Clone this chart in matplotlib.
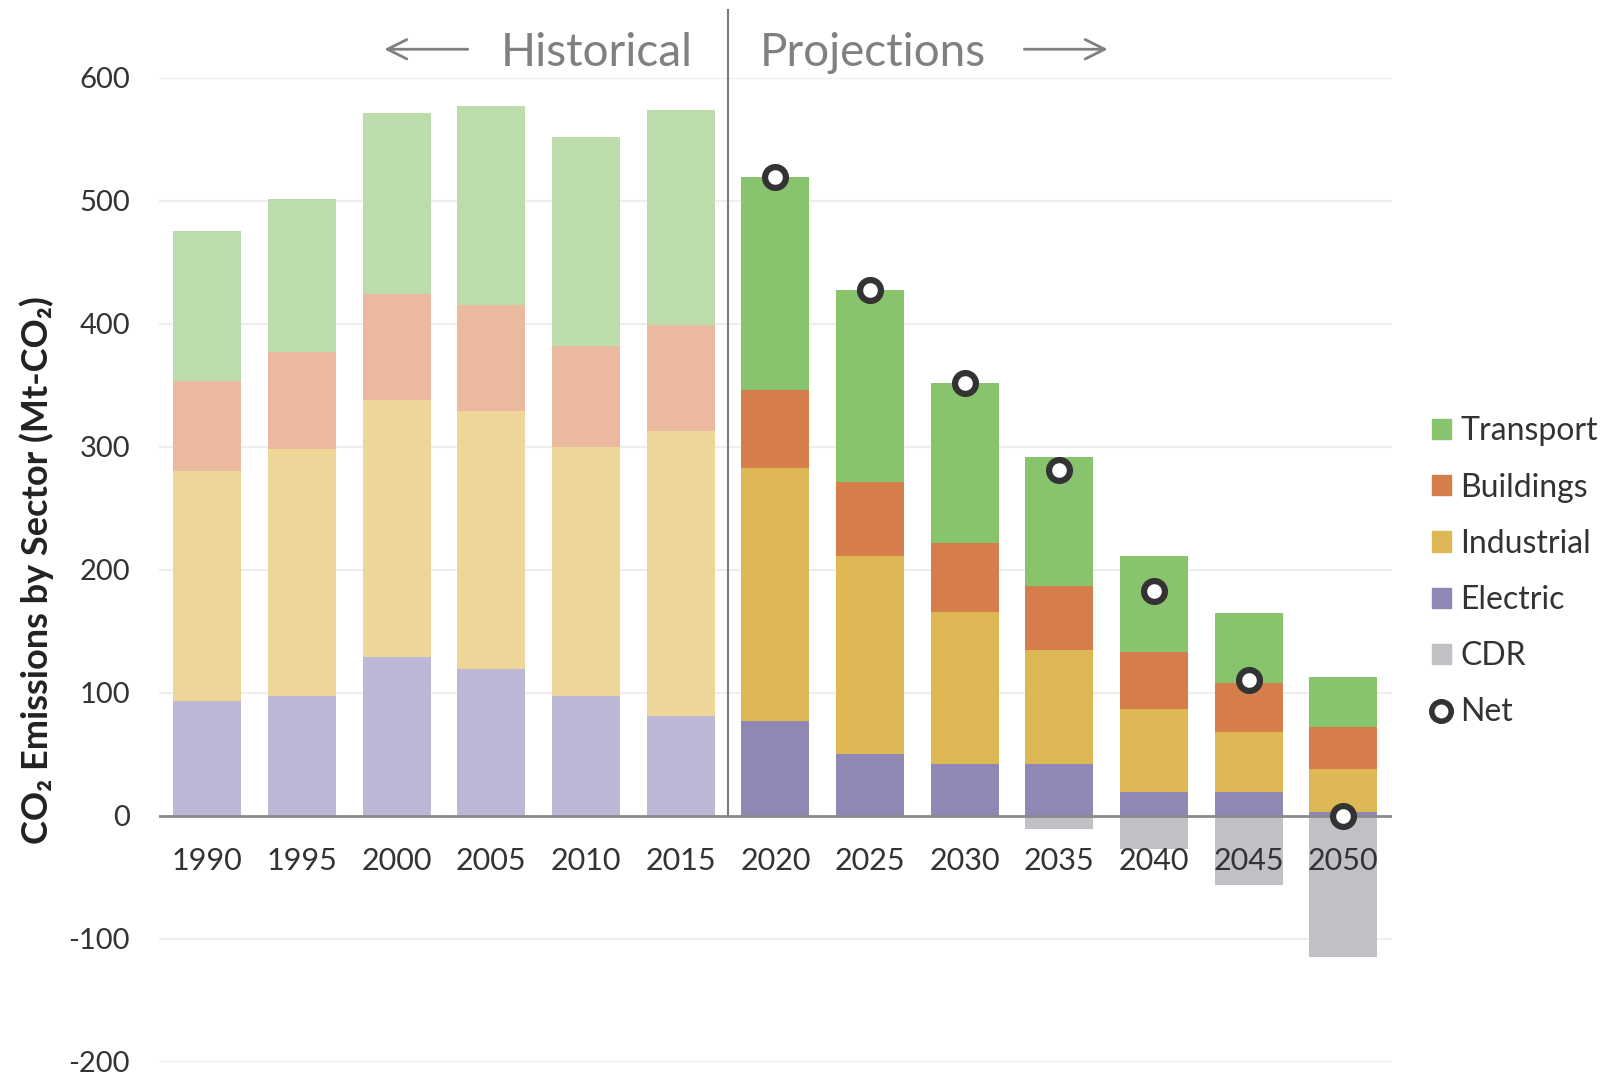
import numpy as np
import matplotlib.pyplot as plt
from matplotlib.patches import Patch
from matplotlib.lines import Line2D

plt.rcParams['font.family'] = ['Lato', 'DejaVu Sans']
plt.rcParams['axes.unicode_minus'] = False

years = ['1990', '1995', '2000', '2005', '2010', '2015', '2020',
         '2025', '2030', '2035', '2040', '2045', '2050']
electric = np.array([93, 97, 129, 119, 97, 81, 77, 50, 42, 42, 19, 19, 3])
industrial_top = np.array([280, 298, 338, 329, 300, 313, 283, 211, 166, 135, 87, 68, 38])
buildings_top = np.array([353, 377, 424, 415, 382, 399, 346, 271, 222, 187, 133, 108, 72])
total = np.array([475, 501, 571, 577, 552, 574, 519, 427, 352, 292, 211, 165, 113])
cdr = np.array([0, 0, 0, 0, 0, 0, 0, 0, 0, -11, -27, -56, -115])
net = np.array([519, 427, 352, 281, 183, 110, 0])

industrial = industrial_top - electric
buildings = buildings_top - industrial_top
transport = total - buildings_top

n_hist = 6
hist_cols = ['#bcb7d4', '#eed598', '#ebb9a0', '#bddcab']
proj_cols = ['#8f88b4', '#ddb854', '#d67e4b', '#88c36e']
cdr_col = '#c0c1c5'

fig = plt.figure(figsize=(16.07, 10.77), dpi=100)
ax = fig.add_axes([0.099, 0.014, 0.767, 0.914])

x = np.arange(len(years))
w = 0.72
segs = [electric, industrial, buildings, transport]
bottoms = [np.zeros(len(years)), industrial_top - industrial, buildings_top - buildings, total - transport]
for s, b, hc, pc in zip(segs, bottoms, hist_cols, proj_cols):
    cols = [hc] * n_hist + [pc] * (len(years) - n_hist)
    ax.bar(x, s, w, bottom=b, color=cols, zorder=2)
ax.bar(x, cdr, w, color=cdr_col, zorder=2)

ax.plot(x[n_hist:], net, 'o', ms=15, mfc='white', mec='#333333', mew=4.5, zorder=6, clip_on=False)

ax.axhline(0, color='#8a8a8a', lw=2, zorder=4)
for yv in range(-200, 601, 100):
    if yv != 0:
        ax.axhline(yv, color='#eeeeee', lw=1.5, zorder=0)

for xi, lab in zip(x, years):
    ax.text(xi, -37, lab, ha='center', va='center', fontsize=22, color='#333333', zorder=5)

ax.plot([5.5, 5.5], [0, 655], color='#7a7a7a', lw=1.5, clip_on=False, zorder=3)
ax.text(5.13, 620, 'Historical', ha='right', va='center', fontsize=33, color='#808080')
ax.text(5.83, 620, 'Projections', ha='left', va='center', fontsize=33, color='#808080')
ax.annotate('', xy=(1.84, 623), xytext=(2.78, 623), annotation_clip=False,
            arrowprops=dict(arrowstyle='->', color='#808080', lw=2, mutation_scale=35))
ax.annotate('', xy=(9.54, 623), xytext=(8.6, 623), annotation_clip=False,
            arrowprops=dict(arrowstyle='->', color='#808080', lw=2, mutation_scale=35))

ax.set_xlim(-0.51, 12.51)
ax.set_ylim(-200, 600)
ax.set_yticks(range(-200, 601, 100))
ax.set_xticks([])
ax.tick_params(axis='y', length=0, labelsize=21, labelcolor='#333333', pad=21)
for sp in ax.spines.values():
    sp.set_visible(False)
ax.set_ylabel('CO\u2082 Emissions by Sector (Mt-CO\u2082)', fontsize=26, fontweight='bold',
              color='#222222')
ax.yaxis.set_label_coords(-0.085, 0.5)

handles = [Patch(color=proj_cols[3]), Patch(color=proj_cols[2]), Patch(color=proj_cols[1]),
           Patch(color=proj_cols[0]), Patch(color=cdr_col),
           Line2D([], [], marker='o', ls='', ms=14, mfc='white', mec='#333333', mew=4)]
labels = ['Transport', 'Buildings', 'Industrial', 'Electric', 'CDR', 'Net']
fig.legend(handles, labels, loc='center left', bbox_to_anchor=(0.873, 0.469), frameon=False,
           fontsize=23, handlelength=0.6, handleheight=0.6, handletextpad=0.3,
           labelspacing=0.82, labelcolor='#333333')

fig.savefig('out.png', dpi=100)
